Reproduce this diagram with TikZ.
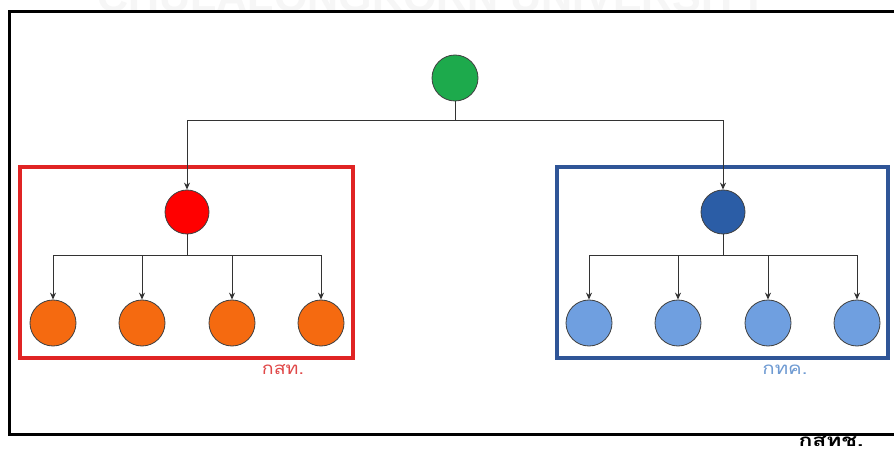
\documentclass[tikz,border=0pt]{standalone}
\usepackage{fontspec}
\setsansfont{Liberation Sans}
\newfontfamily\thaifont[Script=Thai]{Loma}
\usetikzlibrary{arrows.meta}
\definecolor{cgreen}{HTML}{1DAA4C}
\definecolor{cred}{HTML}{FF0000}
\definecolor{corange}{HTML}{F56A10}
\definecolor{cdblue}{HTML}{2B5DA6}
\definecolor{clblue}{HTML}{6F9FE0}
\definecolor{credbox}{HTML}{E02424}
\definecolor{cbluebox}{HTML}{2F5597}
\definecolor{credtxt}{HTML}{E04848}
\definecolor{cbluetxt}{HTML}{6E9AD2}
\definecolor{cwm}{HTML}{F6F6F6}
\begin{document}
\begin{tikzpicture}[x=1pt,y=-1pt,
  dot/.style={circle,draw=black!75,line width=0.8pt,minimum size=46pt,inner sep=0pt},
  conn/.style={draw=black!80,line width=1pt},
  arr/.style={conn,-{Stealth[length=7pt,width=6pt]}},
  lbl/.style={font=\thaifont\fontsize{17}{17}\selectfont,inner sep=0pt}]
\useasboundingbox (0,0) rectangle (894,454);
\fill[white] (0,0) rectangle (894,454);
% faint watermark
\node[anchor=base,inner sep=0pt,text=cwm,font=\sffamily\bfseries\fontsize{43}{43}\selectfont] (wm) at (433,12) {CHULALONGKORN UNIVERSITY};
% outer frame (right side off page)
\draw[line width=3pt,black] (920,12) -- (9,12) -- (9,434) -- (920,434);
% group boxes
\draw[line width=4pt,credbox] (20,167) rectangle (353,358);
\draw[line width=4pt,cbluebox] (557,167) rectangle (888,358);
% nodes
\node[dot,fill=cgreen] (g) at (455,78) {};
\node[dot,fill=cred,minimum size=44pt] (r) at (187,212) {};
\node[dot,fill=cdblue,minimum size=44pt] (b) at (723,212) {};
\node[dot,fill=corange] (o1) at (53,323) {};
\node[dot,fill=corange] (o2) at (142,323) {};
\node[dot,fill=corange] (o3) at (232,323) {};
\node[dot,fill=corange] (o4) at (321,323) {};
\node[dot,fill=clblue] (l1) at (589,323) {};
\node[dot,fill=clblue] (l2) at (678,323) {};
\node[dot,fill=clblue] (l3) at (768,323) {};
\node[dot,fill=clblue] (l4) at (857,323) {};
% bus coordinates
\coordinate (gbus) at (455,121);
\coordinate (rbus) at (187,256);
\coordinate (bbus) at (723,256);
% connectors
\draw[conn] (g.south) -- (gbus);
\draw[arr] (gbus) -| (r.north);
\draw[arr] (gbus) -| (b.north);
\draw[conn] (r.south) -- (rbus);
\foreach \n in {o1,o2,o3,o4} \draw[arr] (rbus) -| (\n.north);
\draw[conn] (b.south) -- (bbus);
\foreach \n in {l1,l2,l3,l4} \draw[arr] (bbus) -| (\n.north);
% labels
\node[lbl,text=credtxt] (t1) at (283,370) {\scalebox{1.15}[1]{กสท.}};
\node[lbl,text=cbluetxt] (t2) at (785,370) {\scalebox{1.2}[1]{กทค.}};
\node[lbl,text=black,font=\thaifont\bfseries\fontsize{17}{17}\selectfont] (t3) at (831,442) {\scalebox{1.35}[1]{กสทช.}};
\end{tikzpicture}
\end{document}
